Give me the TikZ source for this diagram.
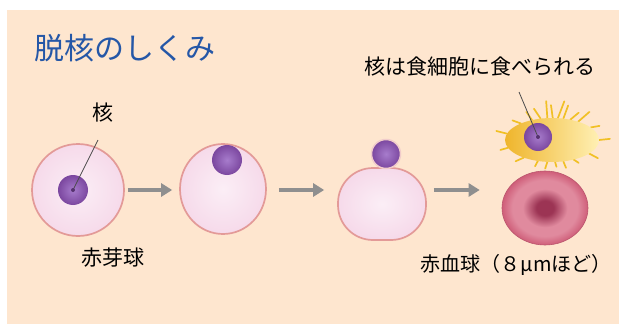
\documentclass[tikz,border=0pt]{standalone}
\usepackage{xcolor}
\usepackage{fontspec}
\newfontfamily\jp{Noto Sans CJK JP}
\usetikzlibrary{arrows.meta,shapes.geometric,calc}
\definecolor{bgPeach}{HTML}{FEE6CF}
\definecolor{titleBlue}{HTML}{2557A7}
\definecolor{cellIn}{HTML}{FBEEF6}
\definecolor{cellOut}{HTML}{F6DAEA}
\definecolor{cellLine}{HTML}{E39A98}
\definecolor{nucLight}{HTML}{A77CCC}
\definecolor{nucDark}{HTML}{7B479F}
\definecolor{arrowGray}{HTML}{8F8F8F}
\definecolor{macDeep}{HTML}{EFB52C}
\definecolor{macPale}{HTML}{FFF0B4}
\definecolor{rbcCore}{HTML}{9C3454}
\definecolor{rbcMid}{HTML}{E08A9E}
\definecolor{rbcOut}{HTML}{CF5E79}
\pgfdeclareradialshading{rbcshade}{\pgfpoint{0bp}{0bp}}{color(0bp)=(rbcCore); color(5bp)=(rbcCore); color(13bp)=(rbcMid); color(19bp)=(rbcMid); color(25bp)=(rbcOut); color(50bp)=(rbcOut)}
\tikzstyle{cell}    = [ellipse,draw=cellLine,line width=1.7pt,inner color=cellIn,outer color=cellOut,inner sep=0pt]
\tikzstyle{nucleus} = [circle,inner color=nucLight,outer color=nucDark,minimum size=30pt,inner sep=0pt]
\tikzstyle{flow}    = [draw=arrowGray,line width=4pt,-{Triangle[length=11pt,width=13pt]}]
\tikzstyle{txt}     = [font=\jp\fontsize{21}{24}\selectfont,inner sep=0pt]
\tikzstyle{spike}   = [draw=macDeep!85!yellow,line width=1.7pt,line cap=round]
\tikzstyle{pointer} = [draw=black!70,line width=0.8pt]

\begin{document}
\begin{tikzpicture}[x=1pt,y=1pt]
	\useasboundingbox (0,0) rectangle (619,325);
	\fill[bgPeach] (7,1) rectangle (619,315);
	
	\node[anchor=west,font=\jp\fontsize{30}{33}\selectfont,text=titleBlue,inner sep=0pt] (title) at (34,277) {脱核のしくみ};
	
	% erythroblast -> nucleus pushed out -> red blood cell
	\node[cell,minimum width=92pt,minimum height=92pt] (c1) at (78,135) {};
	\node[nucleus] (n1) at (73,135) {};
	\node[cell,minimum width=86pt,minimum height=90pt] (c2) at (223,136) {};
	\node[nucleus] (n2) at (227,165) {};
	\node[rectangle,rounded corners=35pt,draw=cellLine,line width=1.7pt,inner color=cellIn,outer color=cellOut,minimum width=88pt,minimum height=72pt] (c3) at (382,121) {};
	\node[nucleus,draw=cellLine!50,line width=1.5pt,minimum size=29pt] (n3) at (386,171) {};
	
	% macrophage with its spikes
	\foreach \a/\l/\t in {62/14/8,75/18/-6,88/13/10,102/17/-8,118/12/6,135/10/-10,152/9/8,172/11/-6,190/8/6,212/9/-8,236/6/6,258/7/-6,278/5/8,298/7/-6,318/6/8,340/10/-8,0/11/6,18/9/-8,35/15/6,48/11/-8}
		\draw[spike] (552,185) ++(\a:{47*22/sqrt((22*cos(\a))^2+(47*sin(\a))^2)}) -- ++(\a+\t:\l);
	\node[ellipse,left color=macDeep,right color=macPale,minimum width=94pt,minimum height=44pt,inner sep=0pt] (mac) at (552,185) {};
	\node[nucleus,minimum size=28pt] (nm) at (538,188) {};
	
	\node[ellipse,draw=rbcOut!90!black,line width=0.6pt,shading=rbcshade,minimum width=86pt,minimum height=74pt,inner sep=0pt] (rbc) at (545,117) {};
	
	\draw[flow] ($(c1.east)+(3,0)$) -- ($(c2.west |- c1.east)+(-7,0)$);
	\draw[flow] ($(c2.east |- c1.east)+(12,0)$) -- ($(c3.west |- c1.east)+(-13,0)$);
	\draw[flow] ($(c3.east |- c1.east)+(7,0)$) -- ($(rbc.west |- c1.east)+(-22,0)$);
	
	% labels
	\node[txt] (k1) at (103,212) {核};
	\coordinate (p1) at (98,185);
	\draw[pointer] (p1) -- (n1.center);
	\fill[nucDark!70!black] (n1.center) circle (2pt);
	
	\node[txt] (k2) at (480,258) {核は食細胞に食べられる};
	\coordinate (p2) at (519,233);
	\draw[pointer] (p2) -- (nm.center);
	\fill[nucDark!70!black] (nm.center) circle (2pt);
	
	\node[txt] (ebl) at (113,67) {赤芽球};
	\node[txt,font=\jp\fontsize{20}{24}\selectfont] (ery) at (516,60) {赤血球（８μmほど）};
\end{tikzpicture}
\end{document}
